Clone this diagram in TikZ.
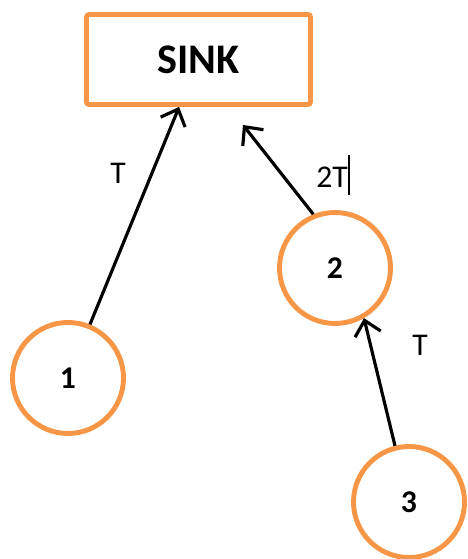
\documentclass[tikz,border=0pt]{standalone}
\usepackage{fontspec}
\setmainfont{Carlito}
\usetikzlibrary{arrows.meta, positioning}
\definecolor{nodeorange}{RGB}{247,150,70}
\tikzset{
  % Sink block
  sinkbox/.style={
    rectangle, rounded corners=1.5pt, minimum width=4.48cm, minimum height=1.8cm,
    draw=nodeorange, line width=2.8pt, font=\fontsize{24}{28}\selectfont\bfseries
  },
  % Sensor node
  sensor/.style={
    circle, minimum size=2.22cm, inner sep=0pt, draw=nodeorange, line width=2.8pt,
    font=\fontsize{18}{22}\selectfont\bfseries
  },
  hoparrow/.style={-{Straight Barb[length=8pt, width=15pt, line width=1.8pt]}, line width=1.8pt, black},
  hoplabel/.style={font=\fontsize{18}{22}\selectfont}
}

\begin{document}
\begin{tikzpicture}
  \useasboundingbox (0,0) rectangle (9.34,11.18);

  % Sink
  \node[sinkbox] (sink) at (3.97,9.99) {SINK};

  % Sensors
  \node[sensor] (n1) at (1.36,3.62) {1};
  \node[sensor] (n2) at (6.70,5.82) {2};
  \node[sensor] (n3) at (8.18,1.14) {3};

  % Free end of the arrow from node 2
  \coordinate (s2) at (4.86,8.68);

  % Arrows
  \draw[hoparrow] (n1) -- (sink);
  \draw[hoparrow] (n2.112) -- (s2);
  \draw[hoparrow] (n3.104) -- (n2.-60);

  % Delays
  \node[hoplabel] (d1) at (2.36,7.72) {T};
  \node[hoplabel] (d2) at (6.66,7.68) {2T\rule[-0.5ex]{1pt}{2.6ex}};
  \node[hoplabel] (d3) at (8.40,4.28) {T};
\end{tikzpicture}
\end{document}
